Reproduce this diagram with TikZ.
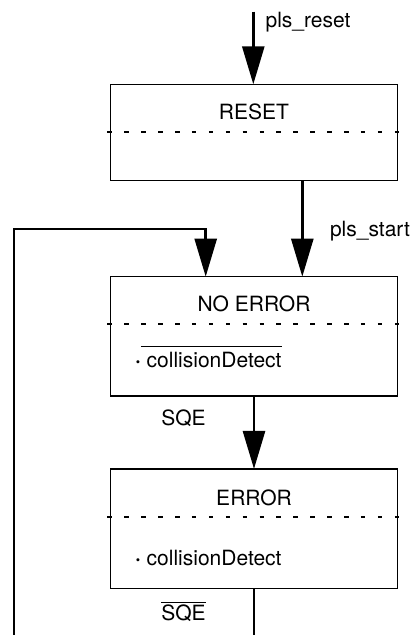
\documentclass[tikz,border=0pt]{standalone}
\usepackage{fontspec}
\setmainfont{TeX Gyre Heros}
\usetikzlibrary{arrows.meta}
\newlength\ovw
\newcommand{\ovtext}[2]{\settowidth{\ovw}{#2}\rlap{\rule[#1]{\ovw}{0.9pt}}#2}
\newcommand{\dotmark}{\textbf{·}}
\begin{document}
\begin{tikzpicture}[x=1pt,y=-1pt,
  box/.style={draw,line width=1.1pt,minimum width=287.7pt,inner sep=0pt,outer sep=0pt},
  arr/.style={line width=2.7pt,-{Triangle[length=38pt,width=22pt]}},
  dashline/.style={line width=2pt,dash pattern=on 4.5pt off 12.4pt},
  txt/.style={inner sep=0pt,outer sep=0pt,font=\fontsize{21}{25}\selectfont}]
\useasboundingbox (0,0) rectangle (415,635);
\clip (0,0) rectangle (415,635);
% state boxes
\node[box,minimum height=96pt] (reset) at (254,132.3) {};
\node[box,minimum height=119.3pt] (noerr) at (254,336.3) {};
\node[box,minimum height=119.3pt] (error) at (254,528.6) {};
% dashed separators
\draw[dashline] ([xshift=-2.7pt]reset.west) -- ([xshift=1.6pt]reset.east);
\draw[dashline] ([shift={(-2.7,-12)}]noerr.west) -- ([shift={(1.6,-12)}]noerr.east);
\draw[dashline] ([shift={(-2.7,-11.9)}]error.west) -- ([shift={(1.6,-11.9)}]error.east);
% texts
\node[txt,anchor=base] (tReset) at (254,119) {RESET};
\node[txt,anchor=base] (tNoerr) at (254,311) {NO ERROR};
\node[txt,anchor=base] (tError) at (254,505) {ERROR};
\node[txt,anchor=base west] (cNo) at (135,367) {\dotmark\ovtext{20pt}{\ collisionDetect}};
\node[txt,anchor=base west] (cEr) at (135,565.5) {\dotmark\ collisionDetect};
\node[txt,anchor=base west] (lReset) at (265.6,27.5) {pls\_reset};
\node[txt,anchor=base west] (lStart) at (330,236.7) {pls\_start};
\node[txt,anchor=base west] (lSqe) at (161.3,425) {SQE};
\node[txt,anchor=base west] (lNsqe) at (161.3,620) {\ovtext{16.9pt}{SQE}};
% connectors
\coordinate (in) at (253.3,11.7);
\coordinate (lp) at (14,229);
\draw[arr] (in) -- (in |- reset.north);
\draw[arr] ([xshift=48.3pt]reset.south) -- ([xshift=48.3pt]noerr.north);
\draw[arr] (noerr.south) -- (error.north);
\draw[arr] (error.south) -- ++(0,80) -| (lp) -| ([xshift=-48.3pt]noerr.north);
\end{tikzpicture}
\end{document}
